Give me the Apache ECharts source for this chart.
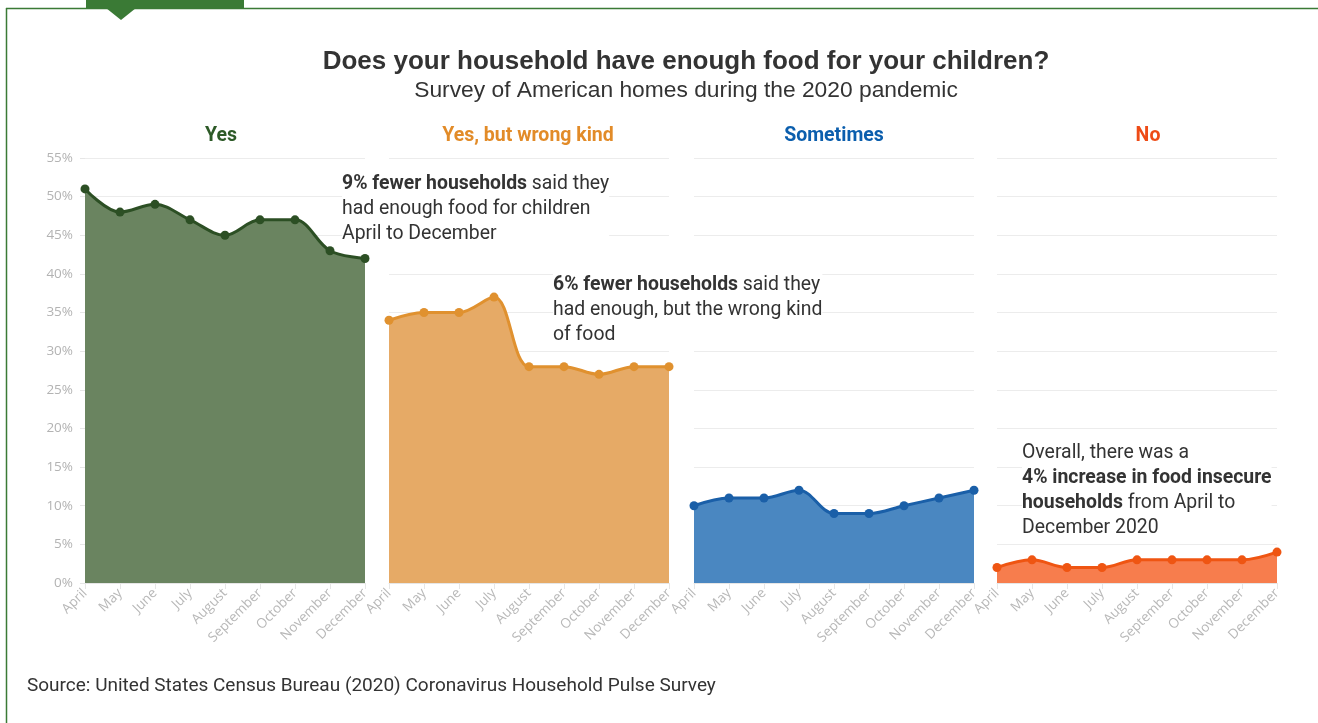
<!DOCTYPE html>
<html>
<head>
<meta charset="utf-8">
<script src="https://cdn.jsdelivr.net/npm/echarts@6/dist/echarts.min.js"></script>
<style>
html,body{margin:0;padding:0;background:#fff;}
#chart{width:1318px;height:723px;}
</style>
</head>
<body>
<div id="chart"></div>
<script>
const months = ['April','May','June','July','August','September','October','November','December'];
const yesValues = [51,48,49,47,45,47,47,43,42];
const wrongKindValues = [34,35,35,37,28,28,27,28,28];
const sometimesValues = [10,11,11,12,9,9,10,11,12];
const noValues = [2,3,2,2,3,3,3,3,4];
const panelTitles = ['Yes','Yes, but wrong kind','Sometimes','No'];
const yMin = 0, yMax = 55, yStep = 5;

const seriesValues = [yesValues, wrongKindValues, sometimesValues, noValues];
const lineColors = ['#2c4f24','#e0912f','#1a5fa8','#ef5512'];
const fillColors = ['#6a8460','#e6aa66','#4a87c1','#f77d4d'];
const titleColors = ['#2d5a27','#e28b28','#0b5ead','#ee4b16'];
const gridLefts = [85, 389, 694, 997];
const titleCenters = [216, 523, 829, 1143];
const gridWidth = 280;
const gridTop = 158, gridBottomPx = 583;

const cond = 'Roboto';

const chart = echarts.init(document.getElementById('chart'), null, {renderer:'canvas'});

const grids = gridLefts.map(l => ({left:l, width:gridWidth, top:gridTop, height:gridBottomPx-gridTop}));
const xAxes = gridLefts.map((l,i) => ({
  gridIndex:i, type:'category', data:months, boundaryGap:false,
  axisLine:{show:true, lineStyle:{color:'#e6e6e6'}},
  axisTick:{show:true, length:6, lineStyle:{color:'#e6e6e6'}},
  axisLabel:{rotate:45, color:'#b8b8b8', fontSize:13.5, fontFamily:'Open Sans', margin:8, interval:0}
}));
const yAxes = gridLefts.map((l,i) => ({
  gridIndex:i, type:'value', min:yMin, max:yMax, interval:yStep,
  axisLine:{show:false},
  axisTick:{show:i===0, length:5, lineStyle:{color:'#e6e6e6'}},
  axisLabel:{show:i===0, formatter:'{value}%', color:'#b3b3b3', fontSize:13.5, fontFamily:'Open Sans', margin:12},
  splitLine:{show:true, lineStyle:{color:'#ececec', width:1}}
}));
const series = seriesValues.map((vals,i) => ({
  type:'line', xAxisIndex:i, yAxisIndex:i, data:vals, smooth:0.35,
  symbol:'circle', symbolSize:9,
  lineStyle:{color:lineColors[i], width:3},
  itemStyle:{color:lineColors[i]},
  areaStyle:{color:fillColors[i], opacity:1},
  z:3
}));

const titles = [
  {text:'Does your household have enough food for your children?', left:681, top:44, textAlign:'center',
   textStyle:{fontFamily:'Liberation Sans', fontWeight:'bold', fontSize:26, color:'#333'}},
  {text:'Survey of American homes during the 2020 pandemic', left:681, top:74, textAlign:'center',
   textStyle:{fontFamily:'Liberation Sans', fontWeight:'normal', fontSize:22.8, color:'#333'}}
].concat(panelTitles.map((t,i) => ({
  text:t, left: titleCenters[i], top:121, textAlign:'center',
  textStyle:{fontFamily:cond, fontWeight:'bold', fontSize:19.5, color:titleColors[i]}
})));

const annoStyle = {fontFamily:cond, fontSize:19.4, fill:'#333', lineHeight:25,
  rich:{b:{fontFamily:cond, fontSize:19.4, fontWeight:'bold', fill:'#333', lineHeight:25}}};

function anno(x,y,text){
  return {type:'text', left:x, top:y, z:10,
    style:Object.assign({}, annoStyle, {text:text, backgroundColor:'#fff', padding:[0,0,0,0]})};
}

const graphics = [
  {type:'line', shape:{x1:6, y1:8.5, x2:1318, y2:8.5}, style:{stroke:'#3a7a35', lineWidth:1.5}, z:20},
  {type:'line', shape:{x1:6.5, y1:8, x2:6.5, y2:723}, style:{stroke:'#3a7a35', lineWidth:1.5}, z:20},
  {type:'rect', shape:{x:86, y:0, width:158, height:9}, style:{fill:'#3a7a35'}, z:21},
  {type:'polygon', shape:{points:[[106,8],[136,8],[121,20]]}, style:{fill:'#3a7a35'}, z:21},
  anno(342, 172, '{b|9% fewer households} said they\nhad enough food for children\nApril to December'),
  anno(553, 273, '{b|6% fewer households} said they\nhad enough, but the wrong kind\nof food'),
  anno(1022, 441, 'Overall, there was a\n{b|4% increase in food insecure}\n{b|households} from April to\nDecember 2020'),
  {type:'text', left:27, top:677, z:10,
   style:{text:'Source: United States Census Bureau (2020) Coronavirus Household Pulse Survey',
          fontFamily:cond, fontSize:19, fill:'#333'}}
];

chart.setOption({
  animation:false,
  backgroundColor:'#fff',
  title:titles,
  grid:grids,
  xAxis:xAxes,
  yAxis:yAxes,
  series:series,
  graphic:graphics
});
</script>
</body>
</html>
